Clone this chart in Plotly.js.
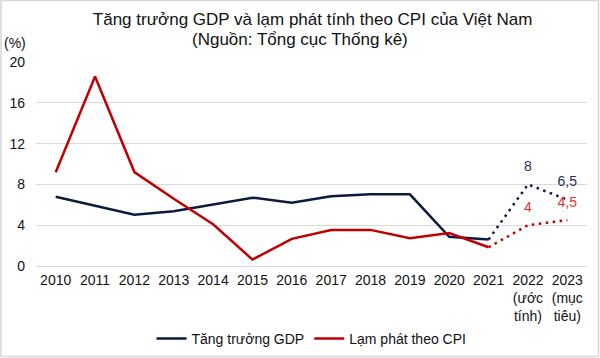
<!DOCTYPE html>
<html>
<head>
<meta charset="utf-8">
<script src="https://cdn.plot.ly/plotly-3.0.1.min.js"></script>
<style>
  html, body { margin: 0; padding: 0; background: #fff; }
  #chart { width: 600px; height: 358px; }
</style>
</head>
<body>
<div id="chart"></div>
<script>
// ---- Data ----
const years = ['2010','2011','2012','2013','2014','2015','2016','2017','2018','2019','2020','2021',
               '2022<br>(ước<br>tính)','2023<br>(mục<br>tiêu)'];
const gdpGrowth = [6.78, 5.89, 5.03, 5.36, 6.0, 6.7, 6.2, 6.83, 7.03, 7.03, 2.87, 2.6, 8, 6.5];
const cpiInflation = [9.19, 18.58, 9.21, 6.6, 4.09, 0.63, 2.66, 3.53, 3.54, 2.73, 3.23, 1.84, 4, 4.5];
const gdpLabels = ['', '8', '6,5'];
const cpiLabels = ['', '4', '4,5'];
const yTicks = [0, 4, 8, 12, 16, 20];
const titleLine1 = 'Tăng trưởng GDP và lạm phát tính theo CPI của Việt Nam';
const titleLine2 = '(Nguồn: Tổng cục Thống kê)';

const splitAt = 11; // last actual year (2021)
const navy = '#0d1a3f';
const red = '#c00000';
const fontFam = '"Liberation Sans", Arial, sans-serif';

const traces = [
  {
    x: years.slice(0, splitAt + 1), y: gdpGrowth.slice(0, splitAt + 1),
    type: 'scatter', mode: 'lines', name: 'Tăng trưởng GDP',
    line: { color: navy, width: 2.5 }
  },
  {
    x: years.slice(0, splitAt + 1), y: cpiInflation.slice(0, splitAt + 1),
    type: 'scatter', mode: 'lines', name: 'Lạm phát theo CPI',
    line: { color: red, width: 2.5 }
  },
  {
    x: years.slice(splitAt), y: gdpGrowth.slice(splitAt),
    type: 'scatter', mode: 'lines+markers+text', showlegend: false,
    text: gdpLabels, textposition: 'top center',
    textfont: { color: '#1f2f5c', size: 14, family: fontFam },
    marker: { size: 14, color: 'rgba(0,0,0,0)' },
    line: { color: navy, width: 2.5, dash: '2.5px,4.5px' }, cliponaxis: false
  },
  {
    x: years.slice(splitAt), y: cpiInflation.slice(splitAt),
    type: 'scatter', mode: 'lines+markers+text', showlegend: false,
    text: cpiLabels, textposition: 'top center',
    textfont: { color: '#e3342b', size: 14, family: fontFam },
    marker: { size: 14, color: 'rgba(0,0,0,0)' },
    line: { color: red, width: 2.5, dash: '2.5px,4.5px' }, cliponaxis: false
  }
];

const L = 36, R = 13, T = 62, B = 92;
const W = 600 - L - R, H = 358 - T - B;
const px = (x) => (x - L) / W;
const py = (y) => (358 - B - y) / H;

const layout = {
  width: 600, height: 358,
  margin: { l: L, r: R, t: T, b: B, pad: 0, autoexpand: false },
  paper_bgcolor: '#ffffff', plot_bgcolor: '#ffffff',
  font: { family: fontFam, size: 14, color: '#1a1a1a' },
  title: {
    text: titleLine1,
    font: { size: 17, color: '#111', family: fontFam },
    x: 0.502, xref: 'paper', xanchor: 'center',
    y: 1 - 19.5 / 358, yref: 'container', yanchor: 'middle'
  },
  xaxis: {
    type: 'category', range: [-0.5, 13.5],
    showgrid: false, showline: false, zeroline: false, ticks: '', ticklabelstandoff: 4,
    tickfont: { size: 14, color: '#111' }, tickangle: 0, fixedrange: true
  },
  yaxis: {
    range: [0, 20], tickvals: yTicks, showgrid: true, gridcolor: '#d9d9d9', gridwidth: 1,
    zeroline: true, zerolinecolor: '#d9d9d9', zerolinewidth: 1,
    showline: false, ticks: '', ticklabelstandoff: 10,
    tickfont: { size: 14, color: '#111' }, fixedrange: true
  },
  legend: {
    orientation: 'h', x: 0.5, xanchor: 'center', y: py(339), yanchor: 'middle',
    font: { size: 14, color: '#111' }, bgcolor: 'rgba(0,0,0,0)'
  },
  annotations: [
    {
      text: titleLine2, xref: 'paper', yref: 'paper', x: px(300), y: py(39.5),
      xanchor: 'center', yanchor: 'middle', showarrow: false,
      font: { size: 17, color: '#111', family: fontFam }
    },
    {
      text: '(%)', xref: 'paper', yref: 'paper', x: px(15), y: py(43),
      xanchor: 'center', yanchor: 'middle', showarrow: false,
      font: { size: 14, color: '#111' }
    }
  ],
  shapes: [
    {
      type: 'rect', xref: 'paper', yref: 'paper',
      x0: px(1), x1: px(598.5), y0: py(356.5), y1: py(0.5),
      line: { color: '#d6d6d6', width: 1.5 }, fillcolor: 'rgba(0,0,0,0)', layer: 'below'
    }
  ],
  showlegend: true
};

Plotly.newPlot('chart', traces, layout, { displayModeBar: false, staticPlot: true });
</script>
</body>
</html>
